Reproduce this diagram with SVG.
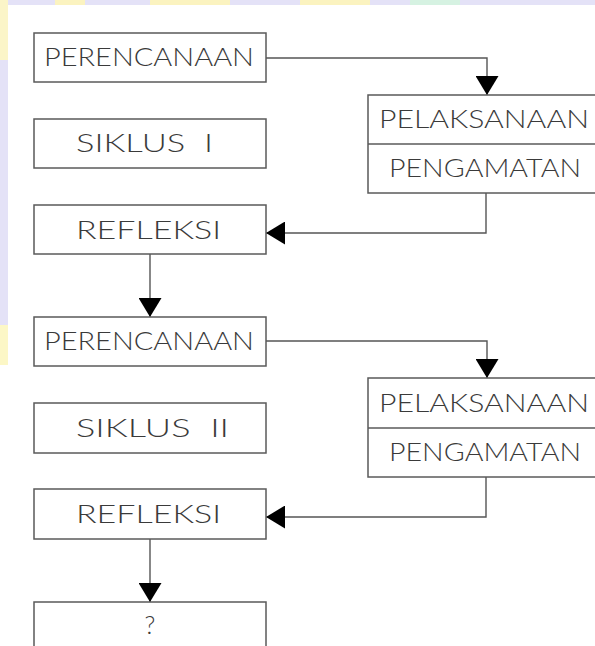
<svg xmlns="http://www.w3.org/2000/svg" width="595" height="646" viewBox="0 0 595 646">
<style>
.box{fill:#fff;stroke:#5a5a5a;stroke-width:1.5}
.div{stroke:#5a5a5a;stroke-width:1.5}
.lbl{font-family:Lato,"Liberation Sans",sans-serif;font-weight:300;font-size:25px;fill:#3a3a3a}
.con{fill:none;stroke:#555;stroke-width:1.4}
</style>
<defs>
<marker id="ah" viewBox="0 0 19 23" refX="19" refY="11.5" markerWidth="19" markerHeight="23" markerUnits="userSpaceOnUse" orient="auto">
<path d="M0,0 L19,11.5 L0,23 Z" fill="#000"/>
</marker>
</defs>
<rect width="595" height="646" fill="#fff"/>
<g id="watermark">
<rect x="0" y="0" width="595" height="5" fill="#e4e2f7"/>
<rect x="0" y="0" width="8" height="330" fill="#e4e2f7"/>
<rect x="0" y="0" width="8" height="60" fill="#fbf5c8"/>
<rect x="0" y="325" width="8" height="40" fill="#fcf7c6"/>
<rect x="55" y="0" width="30" height="5" fill="#fbf3c0"/>
<rect x="150" y="0" width="80" height="5" fill="#fbf3c0"/>
<rect x="300" y="0" width="70" height="5" fill="#fbf3c0"/>
<rect x="410" y="0" width="50" height="5" fill="#d6f2e2"/>
</g>
<g id="connectors">
<path class="con" d="M266,58 H487 V95" marker-end="url(#ah)"/>
<path class="con" d="M486,193 V233 H266" marker-end="url(#ah)"/>
<path class="con" d="M150,254 V317" marker-end="url(#ah)"/>
<path class="con" d="M266,341 H487 V378" marker-end="url(#ah)"/>
<path class="con" d="M486,477 V517 H266" marker-end="url(#ah)"/>
<path class="con" d="M150,539 V602" marker-end="url(#ah)"/>
</g>
<g id="perencanaan1">
<rect class="box" x="34" y="33" width="232" height="49"/>
<text class="lbl" x="44" y="66" textLength="210" lengthAdjust="spacingAndGlyphs">PERENCANAAN</text>
</g>
<g id="siklus1">
<rect class="box" x="34" y="119" width="232" height="49"/>
<text class="lbl" x="76" y="152" textLength="137" lengthAdjust="spacingAndGlyphs" xml:space="preserve">SIKLUS  I</text>
</g>
<g id="pelaksanaan1">
<rect class="box" x="368" y="95" width="240" height="98"/>
<line class="div" x1="368" y1="144" x2="600" y2="144"/>
<text class="lbl" x="379" y="128" textLength="210" lengthAdjust="spacingAndGlyphs">PELAKSANAAN</text>
<text class="lbl" x="389" y="177" textLength="192" lengthAdjust="spacingAndGlyphs">PENGAMATAN</text>
</g>
<g id="refleksi1">
<rect class="box" x="34" y="205" width="232" height="49"/>
<text class="lbl" x="76" y="239" textLength="145" lengthAdjust="spacingAndGlyphs">REFLEKSI</text>
</g>
<g id="perencanaan2">
<rect class="box" x="34" y="317" width="232" height="49"/>
<text class="lbl" x="44" y="350" textLength="210" lengthAdjust="spacingAndGlyphs">PERENCANAAN</text>
</g>
<g id="siklus2">
<rect class="box" x="34" y="403" width="232" height="50"/>
<text class="lbl" x="76" y="437" textLength="153" lengthAdjust="spacingAndGlyphs" xml:space="preserve">SIKLUS  II</text>
</g>
<g id="pelaksanaan2">
<rect class="box" x="368" y="378" width="240" height="99"/>
<line class="div" x1="368" y1="428" x2="600" y2="428"/>
<text class="lbl" x="379" y="412" textLength="210" lengthAdjust="spacingAndGlyphs">PELAKSANAAN</text>
<text class="lbl" x="389" y="461" textLength="192" lengthAdjust="spacingAndGlyphs">PENGAMATAN</text>
</g>
<g id="refleksi2">
<rect class="box" x="34" y="489" width="232" height="50"/>
<text class="lbl" x="76" y="523" textLength="145" lengthAdjust="spacingAndGlyphs">REFLEKSI</text>
</g>
<g id="hasil">
<rect class="box" x="34" y="602" width="232" height="60"/>
<text class="lbl" x="150" y="634" text-anchor="middle">?</text>
</g>
</svg>
